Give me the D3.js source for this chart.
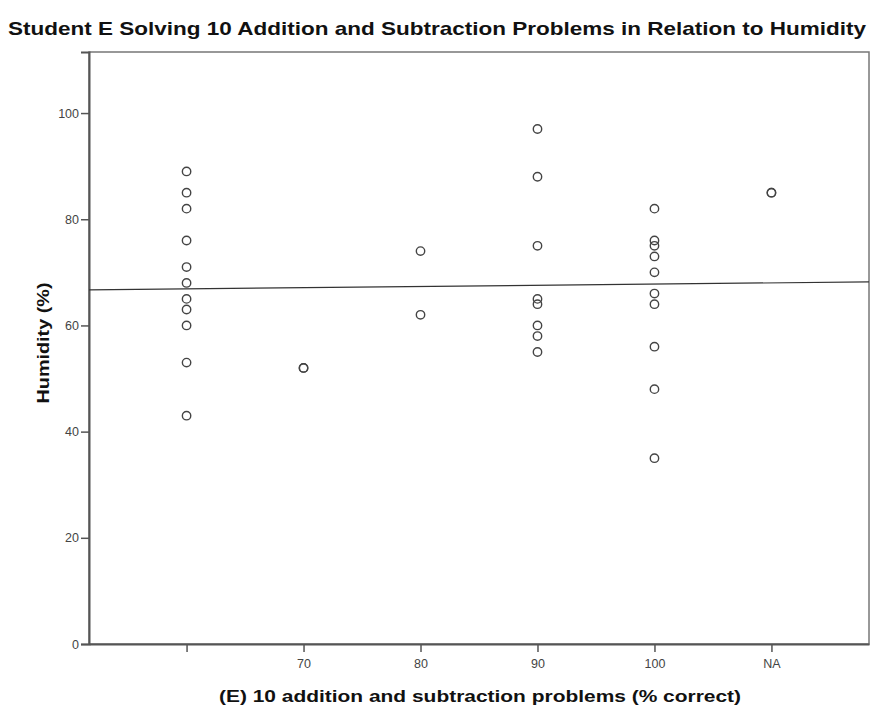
<!DOCTYPE html>
<html>
<head>
<meta charset="utf-8">
<script src="https://cdn.jsdelivr.net/npm/d3@7"></script>
<style>
  body { margin: 0; background: #fff; }
  text { font-family: "Liberation Sans", Arial, sans-serif; }
</style>
</head>
<body>
<svg id="drawing_region"></svg>
<script>
// categories on the x axis (first one has no label)
const categories = ["c60", "70", "80", "90", "100", "NA"];
const tickLabels = ["", "70", "80", "90", "100", "NA"];
const yTicks = [0, 20, 40, 60, 80, 100];

// humidity values per category
const humC60 = [89, 85, 82, 76, 71, 68, 65, 63, 60, 53, 43];
const hum70 = [52, 52];
const hum80 = [74, 62];
const hum90 = [97, 88, 75, 65, 64, 60, 58, 55];
const hum100 = [82, 76, 75, 73, 70, 66, 64, 56, 48, 35];
const humNA = [85, 85];

// fit line: value at left edge and right edge
const fitLine = [66.7, 68.2];

const groups = [humC60, hum70, hum80, hum90, hum100, humNA];
const points = [];
groups.forEach((g, i) => g.forEach(v => points.push({ cat: categories[i], y: v })));

const width = 871, height = 709;
const margin = { top: 52, right: 2, bottom: 65, left: 89 };

const svg = d3.select('#drawing_region')
    .attr('width', width)
    .attr('height', height);

const xscale = d3.scalePoint()
    .domain(categories)
    .range([margin.left, width - margin.right])
    .padding(0.834);

const yscale = d3.scaleLinear()
    .domain([0, 111.5])
    .range([height - margin.bottom, margin.top]);

// frame
svg.append('rect')
    .attr('x', margin.left)
    .attr('y', margin.top)
    .attr('width', width - margin.right - margin.left)
    .attr('height', height - margin.bottom - margin.top)
    .attr('fill', 'none')
    .attr('stroke', '#777')
    .attr('stroke-width', 1.5);

// y axis
const yaxis = d3.axisLeft(yscale)
    .tickValues(yTicks)
    .tickSize(8)
    .tickPadding(2);

const yg = svg.append('g')
    .attr('transform', `translate(${margin.left}, 0)`)
    .call(yaxis);
yg.select('.domain').attr('stroke', '#555').attr('stroke-width', 2);
yg.selectAll('.tick line').attr('stroke', '#555').attr('stroke-width', 1.5);
yg.selectAll('.tick text')
    .attr('fill', '#444')
    .attr('font-size', '12.5px');

// x axis
const xaxis = d3.axisBottom(xscale)
    .tickFormat((d, i) => tickLabels[i])
    .tickSize(8)
    .tickPadding(7)
    .tickSizeOuter(0);

const xg = svg.append('g')
    .attr('transform', `translate(0, ${height - margin.bottom})`)
    .call(xaxis);
xg.select('.domain').attr('stroke', '#555').attr('stroke-width', 2);
xg.selectAll('.tick line').attr('stroke', '#555').attr('stroke-width', 1.5);
xg.selectAll('.tick text')
    .attr('fill', '#444')
    .attr('font-size', '12.5px');

// fit line
svg.append('line')
    .attr('x1', margin.left)
    .attr('x2', width - margin.right)
    .attr('y1', yscale(fitLine[0]))
    .attr('y2', yscale(fitLine[1]))
    .attr('stroke', '#333')
    .attr('stroke-width', 1.2);

// points
svg.append('g').selectAll('circle')
    .data(points)
    .enter()
    .append('circle')
    .attr('cx', d => xscale(d.cat))
    .attr('cy', d => yscale(d.y))
    .attr('r', 4.2)
    .attr('fill', 'none')
    .attr('stroke', '#444')
    .attr('stroke-width', 1.4);

// title
svg.append('text')
    .attr('x', 8)
    .attr('y', 35)
    .attr('font-size', '18.5px')
    .attr('font-weight', 'bold')
    .attr('fill', '#111')
    .attr('textLength', 858)
    .attr('lengthAdjust', 'spacingAndGlyphs')
    .text('Student E Solving 10 Addition and Subtraction Problems in Relation to Humidity');

// x label
svg.append('text')
    .attr('x', 480)
    .attr('y', 702)
    .attr('text-anchor', 'middle')
    .attr('font-size', '17px')
    .attr('font-weight', 'bold')
    .attr('fill', '#111')
    .attr('textLength', 522)
    .attr('lengthAdjust', 'spacingAndGlyphs')
    .text('(E) 10 addition and subtraction problems (% correct)');

// y label
svg.append('text')
    .attr('transform', 'translate(49, 343) rotate(-90)')
    .attr('text-anchor', 'middle')
    .attr('font-size', '17px')
    .attr('font-weight', 'bold')
    .attr('fill', '#111')
    .attr('textLength', 121)
    .attr('lengthAdjust', 'spacingAndGlyphs')
    .text('Humidity (%)');
</script>
</body>
</html>
